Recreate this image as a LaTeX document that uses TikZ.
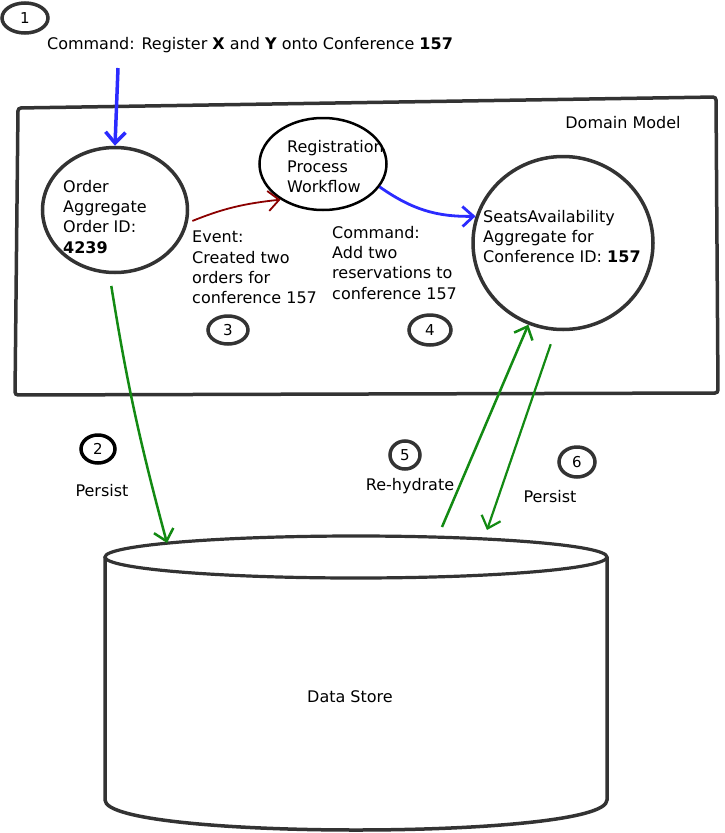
\documentclass[tikz,border=0pt]{standalone}
\usepackage{fontspec}
\setmainfont{DejaVu Sans}
\usetikzlibrary{shapes.geometric,arrows.meta}
\definecolor{pen}{HTML}{333333}
\definecolor{cmdblue}{HTML}{2B2BFF}
\definecolor{eventred}{HTML}{8B0000}
\definecolor{persistgreen}{HTML}{138A13}

\begin{document}
\begin{tikzpicture}[x=1pt, y=-1pt,
	blob/.style={ellipse, draw=pen, line width=3.5pt, inner sep=0pt},
	num/.style={blob, line width=3.5pt, font=\fontsize{15}{15}\selectfont},
	txt/.style={align=left, anchor=north west, inner sep=0pt, font=\fontsize{16}{20.3}\selectfont},
	lbl/.style={inner sep=0pt, font=\fontsize{16}{20}\selectfont},
	flow/.style={line width=2.5pt, -{Straight Barb[length=11pt,width=20pt]}}]
	\useasboundingbox (0,0) rectangle (725,833);
	% domain model and data store
	\draw [pen, line width=3.5pt, rounded corners=3pt] (18,108) -- (716,97) -- (718,393) -- (15,395) -- cycle;
	\draw [pen, line width=3.2pt] (356,557) ellipse [x radius=251, y radius=21];
	\draw [pen, line width=3.5pt] (105,557) -- (105,800) .. controls (105,840) and (607,840) .. (607,800) -- (607,557);
	% circles
	\node [blob, minimum width=145pt, minimum height=125pt] (order) at (115,210) {};
	\node [blob, draw=black, line width=2.5pt, minimum width=127pt, minimum height=92pt] (workflow) at (323,164) {};
	\node [blob, minimum width=180pt, minimum height=173pt] (seats) at (563,243) {};
	\node [num, minimum width=46pt, minimum height=30pt] (n1) at (25,18) {1};
	\node [num, draw=black, minimum width=34pt, minimum height=28pt] (n2) at (98,449) {2};
	\node [num, minimum width=40pt, minimum height=28pt] (n3) at (228,330) {3};
	\node [num, minimum width=42pt, minimum height=30pt] (n4) at (430,330) {4};
	\node [num, minimum width=30pt, minimum height=28pt] (n5) at (405,455) {5};
	\node [num, minimum width=36pt, minimum height=30pt] (n6) at (577,462) {6};
	% labels
	\node [lbl] (cmd) at (250,45) {Command: Register \textbf{X} and \textbf{Y} onto Conference \textbf{157}};
	\node [lbl] (domain) at (623,123) {Domain Model};
	\node [txt] (ordertxt) at (63,180) {Order\\Aggregate\\Order ID:\\\textbf{4239}};
	\node [txt] (workflowtxt) at (287,140) {Registration\\Process\\Workflow};
	\node [txt] (seatstxt) at (483,210) {SeatsAvailability\\Aggregate for\\Conference ID: \textbf{157}};
	\node [txt] (eventtxt) at (192,231) {Event:\\Created two\\orders for\\conference 157};
	\node [txt] (reservetxt) at (332,226) {Command:\\Add two\\reservations to\\conference 157};
	\node [lbl] (persist2) at (102,491) {Persist};
	\node [lbl] (rehydrate) at (410,486) {Re-hydrate};
	\node [lbl] (persist6) at (550,497) {Persist};
	\node [lbl] (store) at (350,697) {Data Store};
	% arrow ends
	\coordinate (cmdtail) at (118,68);
	\coordinate (store2) at (167,543);
	\coordinate (store5) at (442,527);
	\coordinate (store6) at (487,530);
	% arrows
	\draw [flow, cmdblue, line width=3.5pt] (cmdtail) -- (order.north);
	\draw [flow, eventred, line width=1.8pt, shorten <=5pt] (order.-10) to[bend left=8] (workflow.220);
	\draw [flow, cmdblue, line width=2.8pt] (workflow.-22) to[bend right=18] (seats.163);
	\draw [flow, persistgreen, shorten <=12pt] (order.-95) to[bend right=3] (store2);
	\draw [flow, persistgreen] (store5) -- (seats.247);
	\draw [flow, persistgreen, line width=2.2pt, shorten <=14pt] (seats.265) -- (store6);
\end{tikzpicture}
\end{document}
